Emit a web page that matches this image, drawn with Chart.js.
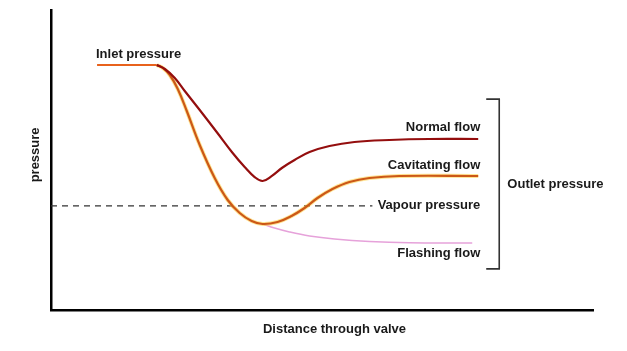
<!DOCTYPE html>
<html>
<head>
<meta charset="utf-8">
<script src="https://cdn.jsdelivr.net/npm/chart.js@4/dist/chart.umd.min.js"></script>
<style>
  html, body { margin: 0; padding: 0; background: #ffffff; }
  #wrap { width: 627px; height: 351px; }
</style>
</head>
<body>
<div id="wrap"><canvas id="c" width="627" height="351"></canvas></div>
<script>
// ---- data (distance through valve vs pressure, arbitrary units 0-100) ----
const inletX = [8.5, 19.52];
const inletY = [81.67, 81.67];

const normalX = [19.52, 21.0, 22.84, 24.68, 27.44, 30.57, 33.52, 35.73, 37.57, 39.04, 40.70, 42.73, 44.94, 47.70, 51.38, 55.99, 62.43, 69.80, 78.82];
const normalY = [81.67, 80.33, 77.33, 73.0, 66.67, 59.33, 52.33, 47.67, 44.33, 43.0, 44.6, 47.5, 50.0, 52.67, 54.67, 56.0, 56.67, 57.0, 57.0];

const cavitatingX = [19.52, 20.63, 21.92, 23.39, 25.05, 27.44, 30.2, 32.6, 34.81, 37.02, 39.04, 41.80, 44.38, 46.78, 49.17, 51.93, 55.06, 58.75, 64.27, 78.82];
const cavitatingY = [81.67, 80.67, 78.33, 73.67, 66.33, 55.0, 44.0, 36.67, 32.33, 29.67, 28.67, 29.33, 31.33, 34.0, 37.33, 40.33, 42.67, 44.0, 44.67, 44.67];

const flashingX = [39.04, 41.25, 44.01, 47.70, 52.30, 58.75, 66.12, 77.72];
const flashingY = [28.67, 27.33, 26.0, 24.67, 23.67, 22.83, 22.4, 22.33];

const vapourX = [0, 59.3];
const vapourY = [34.7, 34.7];

const outletBracketX = [80.3, 82.7, 82.7, 80.3];
const outletBracketY = [70.3, 70.3, 13.7, 13.7];

const xTitle = 'Distance through valve';
const yTitle = 'pressure';

function pts(xs, ys) { return xs.map((x, i) => ({ x: x, y: ys[i] })); }

const textLabels = {
  id: 'textLabels',
  afterDatasetsDraw(chart, args, opts) {
    const { ctx, chartArea, scales: { x, y } } = chart;
    ctx.save();
    ctx.font = 'bold 13px "Liberation Sans", Arial, sans-serif';
    ctx.fillStyle = '#1a1a1a';
    ctx.textBaseline = 'middle';
    opts.items.forEach(it => {
      ctx.textAlign = it.align;
      ctx.fillText(it.text, x.getPixelForValue(it.x), y.getPixelForValue(it.y));
    });
    // axis titles
    ctx.textAlign = 'center';
    ctx.fillText(xTitle, x.getPixelForValue(52.3), chartArea.bottom + 19);
    ctx.translate(chartArea.left - 16, y.getPixelForValue(51.7));
    ctx.rotate(-Math.PI / 2);
    ctx.fillText(yTitle, 0, 0);
    ctx.restore();
  }
};

const common = { pointRadius: 0, fill: false, tension: 0.4, clip: false };
const straight = { tension: 0 };

new Chart(document.getElementById('c'), {
  type: 'line',
  data: {
    datasets: [
      Object.assign({ label: 'Normal flow', data: pts(normalX, normalY), borderColor: '#940e0e', borderWidth: 2.2, order: 1 }, common),
      Object.assign({ label: 'Cavitating flow', data: pts(cavitatingX, cavitatingY), borderColor: '#cc5817', borderWidth: 2.2, order: 2 }, common),
      Object.assign({ label: 'Cavitating glow', data: pts(cavitatingX, cavitatingY), borderColor: 'rgba(255,205,60,0.55)', borderWidth: 4, order: 3 }, common),
      Object.assign({ label: 'Inlet pressure', data: pts(inletX, inletY), borderColor: '#e8621c', borderWidth: 2.2, order: 4 }, common),
      Object.assign({ label: 'Flashing flow', data: pts(flashingX, flashingY), borderColor: '#e6a2da', borderWidth: 1.5, order: 5 }, common),
      Object.assign({ label: 'Vapour pressure', data: pts(vapourX, vapourY), borderColor: '#333333', borderWidth: 1.2, borderDash: [6, 5], order: 6 }, common, straight),
      Object.assign({ label: 'Outlet pressure', data: pts(outletBracketX, outletBracketY), borderColor: '#333333', borderWidth: 1.6, order: 7 }, common, straight)
    ]
  },
  options: {
    responsive: false,
    animation: false,
    events: [],
    layout: { padding: { left: 51, right: 34, top: 10, bottom: 41 } },
    plugins: {
      legend: { display: false },
      tooltip: { enabled: false },
      textLabels: {
        items: [
          { text: 'Inlet pressure', x: 8.3, y: 85.3, align: 'left' },
          { text: 'Normal flow', x: 79.2, y: 60.7, align: 'right' },
          { text: 'Cavitating flow', x: 79.2, y: 48.3, align: 'right' },
          { text: 'Vapour pressure', x: 79.2, y: 34.7, align: 'right' },
          { text: 'Flashing flow', x: 79.2, y: 19.0, align: 'right' },
          { text: 'Outlet pressure', x: 84.2, y: 41.7, align: 'left' }
        ]
      }
    },
    scales: {
      x: {
        type: 'linear', min: 0, max: 100,
        grid: { display: false, drawTicks: false },
        border: { display: true, color: '#000000', width: 2.5 },
        ticks: { display: false }
      },
      y: {
        type: 'linear', min: 0, max: 100,
        grid: { display: false, drawTicks: false },
        border: { display: true, color: '#000000', width: 2.5 },
        ticks: { display: false }
      }
    }
  },
  plugins: [textLabels]
});
</script>
</body>
</html>
